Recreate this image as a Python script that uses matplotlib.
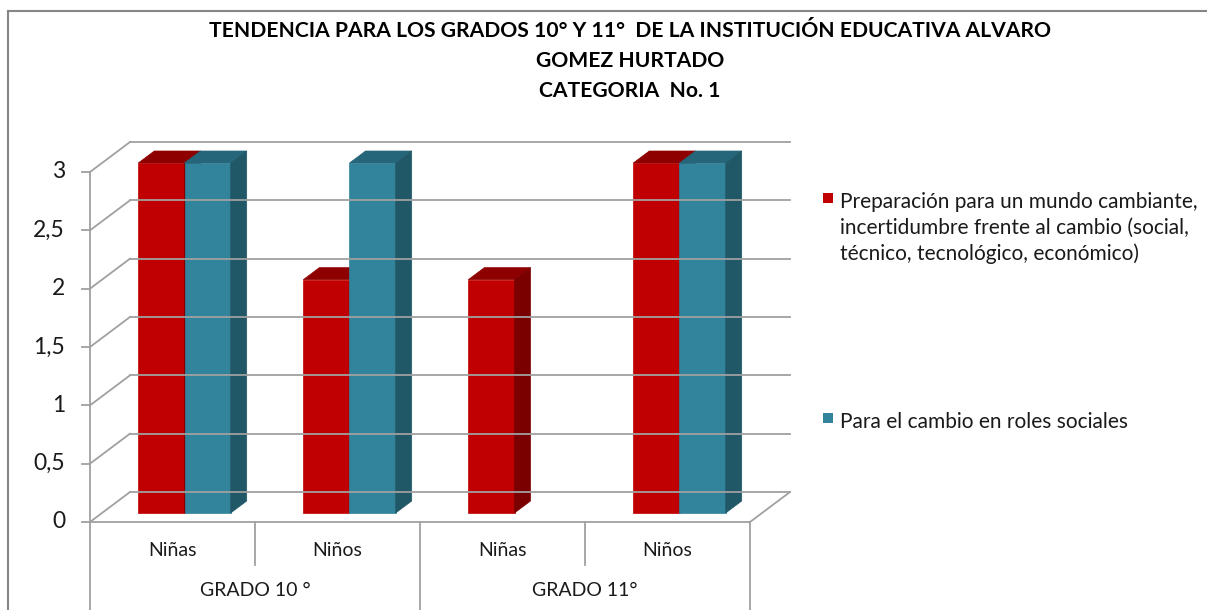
import matplotlib.pyplot as plt
from matplotlib.patches import Polygon, Rectangle
from matplotlib.lines import Line2D

# data
categories = ['Niñas', 'Niños', 'Niñas', 'Niños']
grades = ['GRADO 10 °', 'GRADO 11°']
preparacion = [3, 2, 2, 3]
roles = [3, 3, 0, 3]
series_names = ['Preparación para un mundo cambiante,\nincertidumbre frente al cambio (social,\ntécnico, tecnológico, económico)',
                'Para el cambio en roles sociales']
yticks = [0, 0.5, 1, 1.5, 2, 2.5, 3]
ytick_labels = ['0', '0,5', '1', '1,5', '2', '2,5', '3']
title = ('TENDENCIA PARA LOS GRADOS 10° Y 11°  DE LA INSTITUCIÓN EDUCATIVA ALVARO\n'
         'GOMEZ HURTADO\nCATEGORIA  No. 1')

# colours: front, top, side
red = ('#C00000', '#8E0000', '#7A0000')
teal = ('#31849B', '#26667A', '#215868')
grid_c = '#A0A0A0'

W, H = 1207, 610
fig = plt.figure(figsize=(W / 100, H / 100), dpi=100)
fig.patch.set_facecolor('white')

ax = fig.add_axes([90 / W, (H - 522) / H, 660 / W, 350 / H])
ax.set_xlim(0, 4)
ax.set_ylim(0, 3)
ax.axis('off')

# pseudo 3D depth offsets in data units
DX = 40 / 165
DY = 30 / (350 / 3)
Z0, Z1 = 0.3, 0.7


def line(xs, ys, **kw):
    ax.add_line(Line2D(xs, ys, color=grid_c, lw=1.3, clip_on=False, **kw))


# back wall / side wall gridlines
for y in yticks:
    line([DX, 4 + DX], [y + DY, y + DY])
    line([0, DX], [y, y + DY])
    line([-8 / 165, 0], [y, y])
# floor and axis
line([0, 4], [0, 0])
line([4, 4 + DX], [0, DY])
line([0, 0], [0, 3])

for y, lab in zip(yticks, ytick_labels):
    ax.text(-25 / 165, y, lab, ha='right', va='center', fontsize=16.5,
            family='Lato', color='#1A1A1A', clip_on=False)


def bar3d(x0, w, h, cols):
    if h <= 0:
        return
    f, t, s = cols
    ax.add_patch(Rectangle((x0 + DX * Z0, DY * Z0), w, h, facecolor=f,
                           edgecolor=f, lw=0.5, clip_on=False))
    ax.add_patch(Polygon([(x0 + DX * Z0, h + DY * Z0), (x0 + w + DX * Z0, h + DY * Z0),
                          (x0 + w + DX * Z1, h + DY * Z1), (x0 + DX * Z1, h + DY * Z1)],
                         facecolor=t, edgecolor=t, lw=0.5, clip_on=False))
    ax.add_patch(Polygon([(x0 + w + DX * Z0, DY * Z0), (x0 + w + DX * Z1, DY * Z1),
                          (x0 + w + DX * Z1, h + DY * Z1), (x0 + w + DX * Z0, h + DY * Z0)],
                         facecolor=s, edgecolor=s, lw=0.5, clip_on=False))


bw = 0.28
for i in range(len(categories)):
    bar3d(i + 0.22, bw, preparacion[i], red)
    bar3d(i + 0.5, bw, roles[i], teal)

# category axis below the floor
py = lambda p: (522 - p) / (350 / 3)
for i in range(len(categories)):
    ax.text(i + 0.5, py(550), categories[i], ha='center', va='center',
            fontsize=14, family='Lato', color='#1A1A1A', clip_on=False)
for x in [1, 3]:
    line([x, x], [0, py(565)])
for x in [0, 2, 4]:
    line([x, x], [0, py(612)])
for j, g in enumerate(grades):
    ax.text(2 * j + 1, py(590), g, ha='center', va='center',
            fontsize=14, family='Lato', color='#1A1A1A', clip_on=False)

# title
fig.text(630 / W, 1 - 61 / H, title, ha='center', va='center', fontsize=15.2,
         fontweight='bold', family='Lato', linespacing=1.62, color='black')

# legend
for name, cols, ly in [(series_names[0], red, 198), (series_names[1], teal, 418)]:
    fig.add_artist(Rectangle((823 / W, 1 - (ly + 5) / H), 10 / W, 10 / H,
                             facecolor=cols[0], edgecolor='none', transform=fig.transFigure))
    fig.text(840 / W, 1 - (ly - 6) / H, name, ha='left', va='top', fontsize=15,
             family='Lato', color='#1A1A1A', linespacing=1.36)

# outer chart border (top and left visible)
fig.add_artist(Line2D([8 / W, 1], [1 - 11 / H, 1 - 11 / H], color='#868686', lw=1.5,
                      transform=fig.transFigure))
fig.add_artist(Line2D([8 / W, 8 / W], [0, 1 - 11 / H], color='#868686', lw=1.5,
                      transform=fig.transFigure))

fig.savefig('out.png', dpi=100)
